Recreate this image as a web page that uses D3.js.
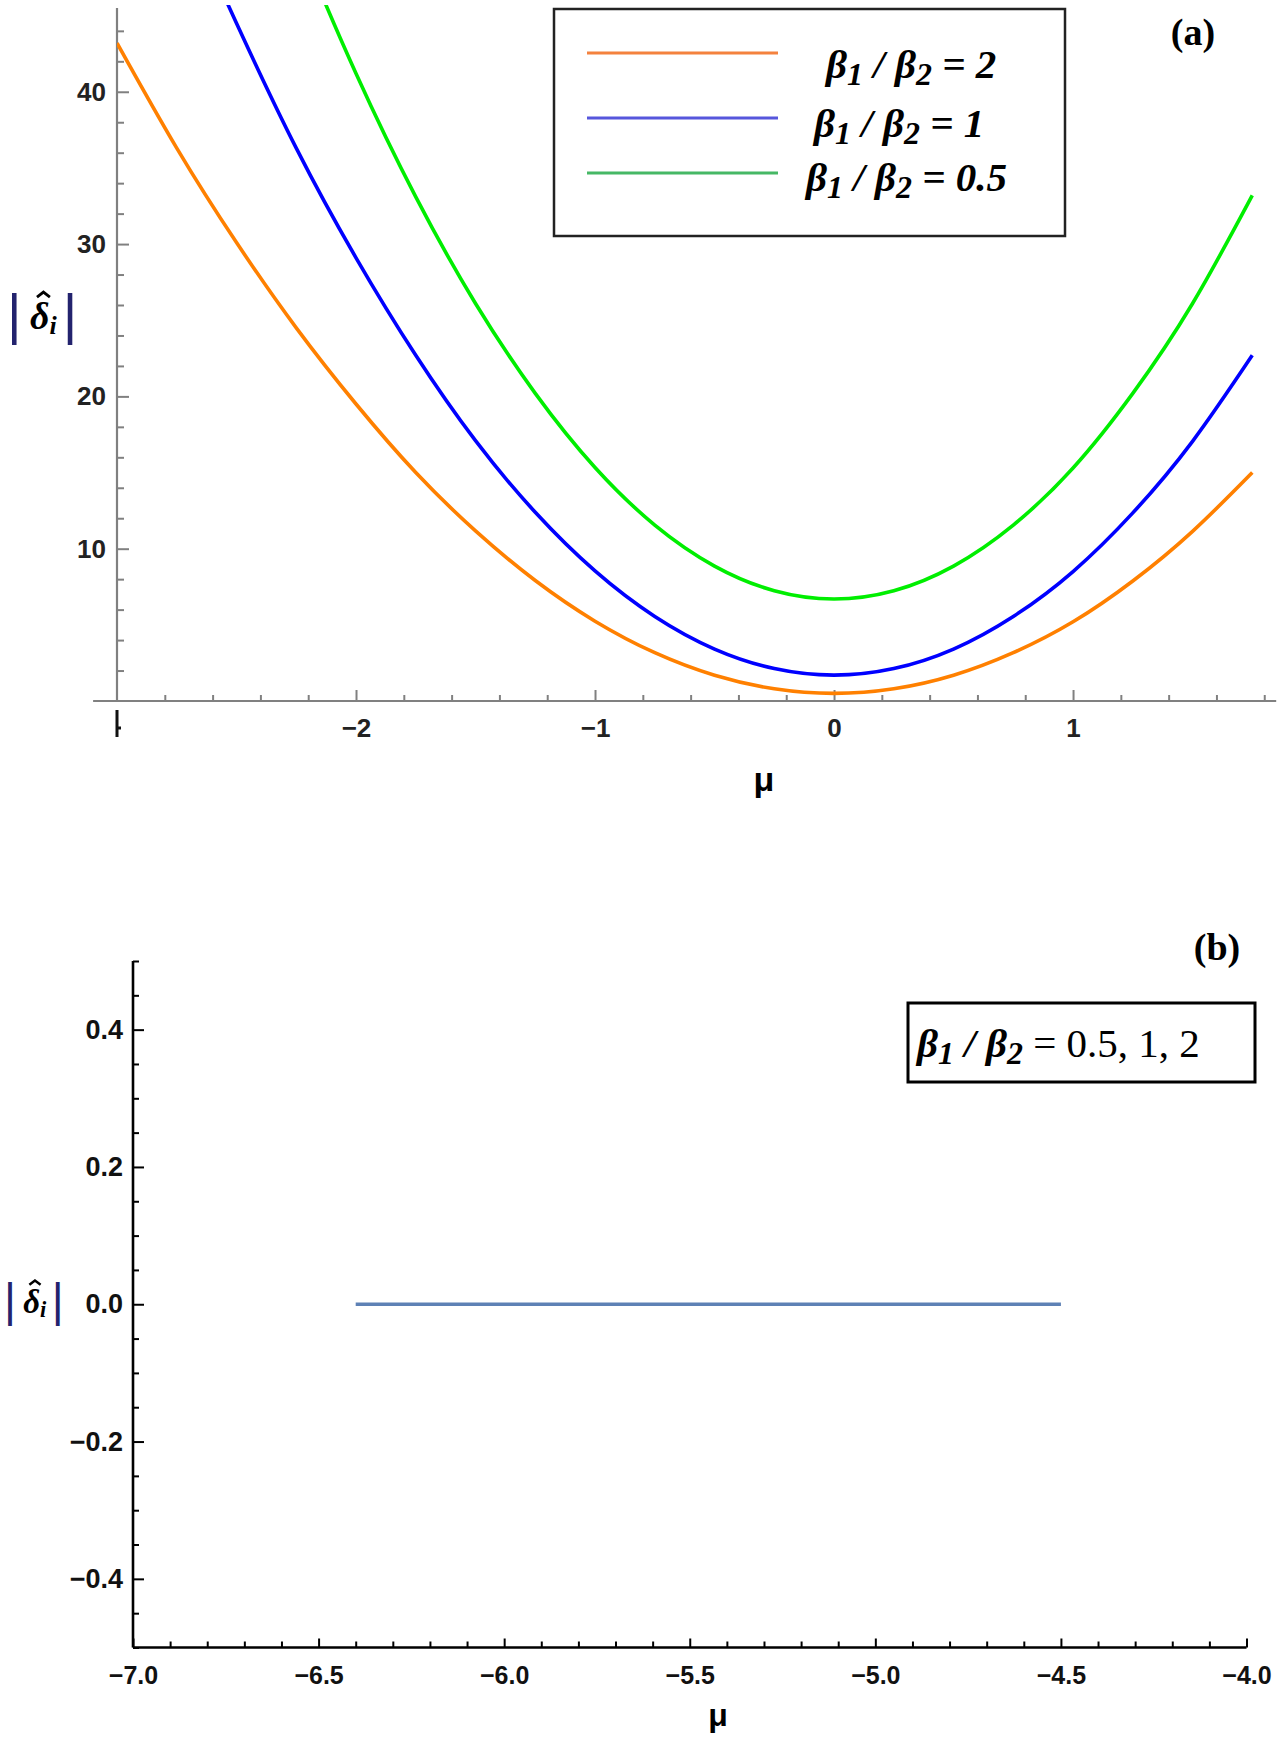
<!DOCTYPE html>
<html><head><meta charset="utf-8">
<script src="https://cdn.jsdelivr.net/npm/d3@7"></script>
<style>body{margin:0;background:#fff}</style>
</head><body>
<svg id="c" width="1280" height="1737"></svg>
<script>
// ---------- DATA ----------
const muA = [-3,-2.75,-2.5,-2.25,-2,-1.75,-1.5,-1.25,-1,-0.75,-0.5,-0.25,0,0.25,0.5,0.75,1,1.25,1.5,1.75];
const ratio2  = [43.2,36.3,30.1,24.5,19.5,15.0,11.17,7.91,5.24,3.17,1.69,0.80,0.5,0.80,1.69,3.17,5.2,7.88,11.14,15.0];
const ratio1  = [63.3,53.4,44.5,36.3,29.1,22.7,17.09,12.39,8.54,5.55,3.41,2.13,1.7,2.13,3.41,5.55,8.5,12.35,17.05,22.7];
const ratio05 = [84.4,72.0,60.6,50.4,41.2,33.1,26.1,20.2,15.33,11.55,8.86,7.24,6.7,7.24,8.86,11.55,15.3,20.2,26.1,33.2];
const seriesLabels = ["2","1","0.5"];
const xTicksA = [-2,-1,0,1];
const yTicksA = [10,20,30,40];

const muB = [-6.4,-6.0,-5.5,-5.0,-4.5];
const deltaB = [0,0,0,0,0];
const xTicksB = [-7,-6.5,-6,-5.5,-5,-4.5,-4];
const yTicksB = [-0.4,-0.2,0,0.2,0.4];
const legendB = "0.5, 1, 2";

// ---------- SETUP ----------
const svg = d3.select("#c");
const sans = "'Liberation Sans', Arial, sans-serif";
const serif = "'Liberation Serif', 'Times New Roman', serif";

// ================= PANEL (a) =================
const xA = d3.scaleLinear().domain([-3, 1.85]).range([117, 1276.2]);
const yA = d3.scaleLinear().domain([0, 45.5]).range([701, 8]);
const gA = svg.append("g");
const axisGrayA = "#808080";

const xMinorA = d3.range(-3, 1.81, 0.2).filter(v => Math.abs(v - Math.round(v)) > 1e-6);
const yMinorA = d3.range(2, 45, 2).filter(v => v % 10 !== 0);

gA.append("g").attr("transform", `translate(0,${yA(0)})`)
  .call(d3.axisBottom(xA).tickValues(xMinorA).tickFormat("").tickSizeInner(-6).tickSizeOuter(0))
  .call(g => { g.select(".domain").remove(); g.selectAll("line").attr("stroke", axisGrayA).attr("stroke-width", 2); });
gA.append("g").attr("transform", `translate(0,${yA(0)})`)
  .call(d3.axisBottom(xA).tickValues(xTicksA).tickFormat(d3.format("d")).tickSizeInner(-11).tickSizeOuter(0).tickPadding(18))
  .call(g => { g.select(".domain").remove(); g.selectAll("line").attr("stroke", axisGrayA).attr("stroke-width", 2);
    g.selectAll("text").attr("font-family", sans).attr("font-size", 26).attr("font-weight", "bold").attr("fill", "#222"); });

gA.append("g").attr("transform", `translate(${xA(-3)},0)`)
  .call(d3.axisLeft(yA).tickValues(yMinorA).tickFormat("").tickSizeInner(-7).tickSizeOuter(0))
  .call(g => { g.select(".domain").remove(); g.selectAll("line").attr("stroke", axisGrayA).attr("stroke-width", 2); });
gA.append("g").attr("transform", `translate(${xA(-3)},0)`)
  .call(d3.axisLeft(yA).tickValues(yTicksA).tickFormat(d3.format("d")).tickSizeInner(-12).tickSizeOuter(0).tickPadding(11))
  .call(g => { g.select(".domain").remove(); g.selectAll("line").attr("stroke", axisGrayA).attr("stroke-width", 2);
    g.selectAll("text").attr("font-family", sans).attr("font-size", 26).attr("font-weight", "bold").attr("fill", "#222"); });

gA.append("line").attr("x1", xA(-3.1)).attr("x2", xA(1.85)).attr("y1", yA(0)).attr("y2", yA(0))
  .attr("stroke", axisGrayA).attr("stroke-width", 2.2);
gA.append("line").attr("x1", xA(-3)).attr("x2", xA(-3)).attr("y1", yA(0)).attr("y2", yA(45.5))
  .attr("stroke", axisGrayA).attr("stroke-width", 2.2);
gA.append("path").attr("d", `M${xA(-3)},${yA(0)+9} V${yA(0)+36} M${xA(-3)},${yA(0)+27} h4`)
  .attr("stroke", "#111").attr("stroke-width", 3).attr("fill", "none");

svg.append("defs").append("clipPath").attr("id", "clipA")
  .append("rect").attr("x", xA(-3)).attr("y", 5).attr("width", 1280).attr("height", yA(0) - 5 + 10);
const lineA = d3.line().x((d, i) => xA(muA[i])).y(d => yA(d)).curve(d3.curveNatural);
const curveColors = ["#ff8000", "#0000ff", "#00ee00"];
[ratio2, ratio1, ratio05].forEach((s, k) => {
  gA.append("path").attr("d", lineA(s)).attr("clip-path", "url(#clipA)")
    .attr("fill", "none").attr("stroke", curveColors[k]).attr("stroke-width", 3.6);
});

// legend (a)
const legColors = ["#f4823e", "#5656dc", "#46b865"];
gA.append("rect").attr("x", 554).attr("y", 9).attr("width", 511).attr("height", 227)
  .attr("fill", "#fff").attr("stroke", "#222").attr("stroke-width", 2.5);
const legRowsY = [53, 118, 173];
const legTextX = [826, 814, 806];
const legBase = [78, 137, 191];
function ratioText(g, x, y, size, rhs, rhsItalicBold) {
  const t = g.append("text").attr("x", x).attr("y", y).attr("font-family", serif)
    .attr("font-size", size).attr("fill", "#000");
  const sub = Math.round(size * 0.16);
  t.append("tspan").attr("font-style", "italic").attr("font-weight", "bold").text("β");
  t.append("tspan").attr("font-style", "italic").attr("font-weight", "bold").attr("font-size", size * 0.78).attr("dy", sub).text("1");
  t.append("tspan").attr("font-style", "italic").attr("font-weight", "bold").attr("dy", -sub).text(" / β");
  t.append("tspan").attr("font-style", "italic").attr("font-weight", "bold").attr("font-size", size * 0.78).attr("dy", sub).text("2");
  const r = t.append("tspan").attr("dy", -sub).text(" = " + rhs);
  if (rhsItalicBold) r.attr("font-style", "italic").attr("font-weight", "bold");
  return t;
}
seriesLabels.forEach((lab, k) => {
  gA.append("line").attr("x1", 587).attr("x2", 778).attr("y1", legRowsY[k]).attr("y2", legRowsY[k])
    .attr("stroke", legColors[k]).attr("stroke-width", 3);
  ratioText(gA, legTextX[k], legBase[k], 41, lab, true);
});

gA.append("text").attr("x", 1193).attr("y", 45).attr("text-anchor", "middle")
  .attr("font-family", serif).attr("font-weight", "bold").attr("font-size", 38).text("(a)");

// axis title |δ̂_i|: one text element, hat drawn as a small stroke above δ
function deltaLabel(g, x, cy, size, barSize) {
  const navy = "#23236e";
  const base = cy + size * 0.3;
  const t = g.append("text").attr("x", x).attr("y", base).attr("font-family", serif);
  t.append("tspan").attr("font-family", sans).attr("font-size", barSize).attr("fill", navy)
    .attr("dy", barSize * 0.06).text("|");
  t.append("tspan").attr("font-size", size).attr("font-style", "italic").attr("font-weight", "bold")
    .attr("dy", -barSize * 0.06).attr("dx", size * 0.22).text("δ");
  t.append("tspan").attr("font-size", size * 0.68).attr("font-style", "italic").attr("font-weight", "bold")
    .attr("dy", size * 0.12).text("i");
  t.append("tspan").attr("font-family", sans).attr("font-size", barSize).attr("fill", navy)
    .attr("dy", -size * 0.12 + barSize * 0.06).attr("dx", size * 0.16).text("|");
  const n = t.node();
  const s0 = n.getStartPositionOfChar(1).x, s1 = n.getEndPositionOfChar(1).x;
  const hx = (s0 + s1) / 2 + size * 0.1;
  const hy = base - size * 0.98;
  const w = size * 0.17, h = size * 0.13;
  g.append("path").attr("d", `M${hx - w},${hy + h} L${hx},${hy} L${hx + w},${hy + h}`)
    .attr("fill", "none").attr("stroke", "#000").attr("stroke-width", size * 0.075)
    .attr("stroke-linejoin", "miter");
}
deltaLabel(gA, 7, 318, 38, 56);
gA.append("text").attr("x", 764).attr("y", 791).attr("text-anchor", "middle")
  .attr("font-family", sans).attr("font-weight", "bold").attr("font-size", 34).text("μ");

// ================= PANEL (b) =================
const xB = d3.scaleLinear().domain([-7, -4]).range([133, 1246.5]);
const yB = d3.scaleLinear().domain([-0.5, 0.5]).range([1647.5, 961]);
const gB = svg.append("g");
const xMinorB = d3.range(-6.9, -4.0, 0.1).filter(v => Math.abs(v * 2 - Math.round(v * 2)) > 1e-6);
const yMinorB = d3.range(-0.5, 0.501, 0.05).filter(v => Math.abs(v * 5 - Math.round(v * 5)) > 1e-6);

gB.append("g").attr("transform", `translate(0,${yB(-0.5)})`)
  .call(d3.axisBottom(xB).tickValues(xMinorB).tickFormat("").tickSizeInner(-6).tickSizeOuter(0))
  .call(g => { g.select(".domain").remove(); g.selectAll("line").attr("stroke", "#000").attr("stroke-width", 2); });
gB.append("g").attr("transform", `translate(0,${yB(-0.5)})`)
  .call(d3.axisBottom(xB).tickValues(xTicksB).tickFormat(d3.format(".1f")).tickSizeInner(-9).tickSizeOuter(0).tickPadding(19))
  .call(g => { g.select(".domain").remove(); g.selectAll("line").attr("stroke", "#000").attr("stroke-width", 2);
    g.selectAll("text").attr("font-family", sans).attr("font-size", 25).attr("font-weight", "bold").attr("fill", "#111"); });
gB.append("g").attr("transform", `translate(${xB(-7)},0)`)
  .call(d3.axisLeft(yB).tickValues(yMinorB).tickFormat("").tickSizeInner(-6).tickSizeOuter(0))
  .call(g => { g.select(".domain").remove(); g.selectAll("line").attr("stroke", "#000").attr("stroke-width", 2); });
gB.append("g").attr("transform", `translate(${xB(-7)},0)`)
  .call(d3.axisLeft(yB).tickValues(yTicksB).tickFormat(d3.format(".1f")).tickSizeInner(-11).tickSizeOuter(0).tickPadding(10))
  .call(g => { g.select(".domain").remove(); g.selectAll("line").attr("stroke", "#000").attr("stroke-width", 2);
    g.selectAll("text").attr("font-family", sans).attr("font-size", 27).attr("font-weight", "bold").attr("fill", "#111"); });

gB.append("line").attr("x1", xB(-7)).attr("x2", xB(-4)).attr("y1", yB(-0.5)).attr("y2", yB(-0.5))
  .attr("stroke", "#000").attr("stroke-width", 2.6);
gB.append("line").attr("x1", xB(-7)).attr("x2", xB(-7)).attr("y1", yB(-0.5)).attr("y2", yB(0.5))
  .attr("stroke", "#000").attr("stroke-width", 2.6);

const lineB = d3.line().x((d, i) => xB(muB[i])).y(d => yB(d));
gB.append("path").attr("d", lineB(deltaB)).attr("fill", "none")
  .attr("stroke", "#5e81b5").attr("stroke-width", 3.6);

gB.append("rect").attr("x", 908).attr("y", 1003).attr("width", 347).attr("height", 79)
  .attr("fill", "#fff").attr("stroke", "#000").attr("stroke-width", 3);
ratioText(gB, 917, 1057, 41, legendB, false);

gB.append("text").attr("x", 1217).attr("y", 960).attr("text-anchor", "middle")
  .attr("font-family", serif).attr("font-weight", "bold").attr("font-size", 38).text("(b)");

deltaLabel(gB, 4, 1303, 33, 46);
gB.append("text").attr("x", 718).attr("y", 1726).attr("text-anchor", "middle")
  .attr("font-family", sans).attr("font-weight", "bold").attr("font-size", 32).text("μ");
</script>
</body></html>
